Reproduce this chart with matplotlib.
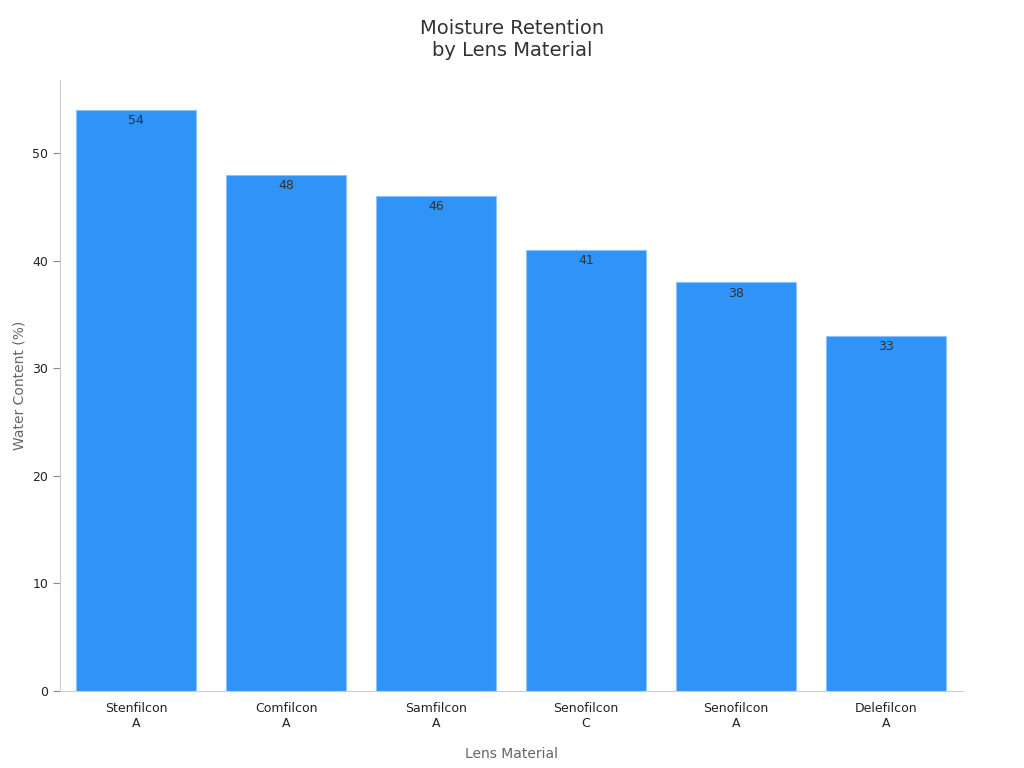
import matplotlib
matplotlib.use("Agg")
import matplotlib.pyplot as plt

categories = ["Stenfilcon\nA", "Comfilcon\nA", "Samfilcon\nA", "Senofilcon\nC", "Senofilcon\nA", "Delefilcon\nA"]
values = [54, 48, 46, 41, 38, 33]

fig = plt.figure(figsize=(10.24, 7.68), dpi=100)
ax = fig.add_axes([0.0586, 0.1003, 0.8818, 0.7955])
x = range(len(categories))
bars = ax.bar(x, values, width=0.8, color="#2F93F8", edgecolor="#8cc4fb", linewidth=0.8)
for xi, v in zip(x, values):
    ax.text(xi, v - 0.4, str(v), ha="center", va="top", fontsize=9, color="#333333")
ax.set_xlim(-0.507, 5.513)
ax.set_ylim(0, 56.8)
ax.set_xticks(list(x))
ax.set_xticklabels(categories, fontsize=9, color="#222222")
ax.set_yticks([0, 10, 20, 30, 40, 50])
ax.tick_params(axis="y", labelsize=9, colors="#222222", length=5, color="#888888")
ax.tick_params(axis="x", length=0, pad=8)
for s in ["top", "right"]:
    ax.spines[s].set_visible(False)
for s in ["left", "bottom"]:
    ax.spines[s].set_color("#cccccc")
ax.set_xlabel("Lens Material", fontsize=10, color="#666666", labelpad=12)
ax.set_ylabel("Water Content (%)", fontsize=10, color="#666666")
fig.suptitle("Moisture Retention\nby Lens Material", fontsize=14, color="#333333", y=0.975)
fig.savefig("out.png", dpi=100)
